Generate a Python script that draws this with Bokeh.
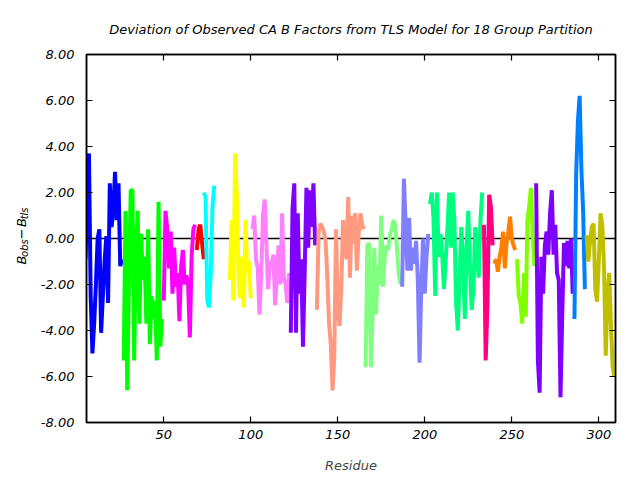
import math
from bokeh.plotting import figure
from bokeh.layouts import row
from bokeh.models import Range1d, FixedTicker, PrintfTickFormatter, LinearAxis, Span
from bokeh.core.properties import value
from bokeh.embed import file_html
from bokeh.resources import INLINE

TITLE = "Deviation of Observed CA B Factors from TLS Model for 18 Group Partition"
X_LABEL = "Residue"
X_TICKS = [50, 100, 150, 200, 250, 300]
Y_TICKS = [-8, -6, -4, -2, 0, 2, 4, 6, 8]
Y_LABEL_MAIN = ["B", "\u2212", "B"]
Y_LABEL_SUB = ["obs", "tls"]

# (first residue, values) for each TLS group
g01_start, g01 = 5, [-0.9, 1.6, 3.7, -2.5, -5.0, -3.7, -2.0, 0.0, 0.4, -4.1, -2.5, -1.0, 0.1, -2.8, 2.4, 0.5, 1.2, 2.9, 0.8, 2.4, -1.2, -0.9]
g02_start, g02 = 27, [-5.3, 1.2, -6.6, -2.0, 2.1, 2.1, -5.3, -0.5, 1.2, -3.7, 0.2, -1.8, -0.8, -3.7, 0.4, -4.6, -2.5, -3.5, -2.7, -5.3, 1.6, -4.7, -3.5]
g03_start, g03 = 50, [-2.7, 1.2, 0.4, -1.3, 0.3, -2.4, -0.4, -2.1, -1.5, -3.6, -1.2, -0.5, -2.0, -1.6, -2.0, -4.3, -0.8, 0.4, 0.6]
g04_start, g04 = 69, [-0.5, 0.4, 0.6, -0.2, -0.9]
g05_start, g05 = 73, [2.0, 1.8, -2.7, -3.0, -1.5, 1.4, 2.3]
g06_start, g06 = 88, [-1.8, 0.8, -2.7, 3.7, 1.9, -1.7, -2.6, -0.8, -3.0, 0.8, -1.5, -1.0, -2.6]
g07_start, g07 = 101, [0.4, 1.0, -0.9, -1.3, -3.3, -1.6, 1.0, 1.7, -0.3, -2.2, -1.0, -1.2, -0.7, -2.9, -1.5, -0.3, -2.0, 1.1, -1.7, -2.0, -2.8, -1.5]
g08_start, g08 = 123, [-4.1, 1.3, 2.4, -4.1, 1.1, -2.4, -0.9, -4.7, -1.4, 2.2, -0.4, 2.1, 0.5, 2.4, -0.3]
g09_start, g09 = 138, [-3.1, 0.3, 0.65, 0.5, 0.3, -0.1, -1.7, -3.7, -4.6, -6.6, -5.1, 0.4, -3.1, -3.8, -2.2, 0.8, -0.4, -0.9, 1.8, -1.7, 1.0, -0.2, 1.1, -1.4, 0.2, 1.1, 0.6, 0.4]
g10_start, g10 = 166, [-5.6, -0.3, -0.2, -5.6, -3.4, -0.4, -3.3, -1.2, -2.0, 1.0, -2.1, -0.8, -0.3, -0.5, 0.2, 0.4, 0.8, 0.6, -0.4, -1.5, -2.0]
g11_start, g11 = 187, [-2.1, 2.6, 0.6, -1.4, 0.9, -1.4, -0.4, -1.1, -0.1, -1.8, -5.4, -2.1, 0.0, -2.4, -0.8, 0.2]
g12_start, g12 = 203, [1.5, 2.0, 0.9, -2.5, 2.0, -0.8, 0.2, -0.7, -2.2, -1.0, 0.4, 2.0, -0.4, 2.0, 0.8, -2.8, -4.0, -1.7, 0.5, -1.1, -3.5, -0.4, 1.2, -1.4, -3.1, -2.1, 0.5, -0.8, -1.7, 0.8, 2.0]
g13_start, g13 = 234, [0.6, -5.3, -3.0, 1.9, 1.4, -0.3]
g14_start, g14 = 240, [-1.1, -0.9, -1.45, -0.8, -0.4, 0.3, -1.3, -0.2, 0.3, 0.95, 0.0, -0.3, -0.5]
g15_start, g15 = 253, [-0.9, -2.5, -2.8, -3.7, -1.5, -3.4, 0.8, 1.4, 2.2, 0.2, -1.2]
g16_start, g16 = 264, [2.4, -5.3, -6.7, -0.8, -2.4, -0.3, 0.3, -0.7, 1.1, 2.1, -0.7, 0.6, -1.5, -1.8, -6.9, -3.3, -0.2, -1.2, -0.1, -1.3, 0.0, -2.4]
g17_start, g17 = 286, [-3.5, 2.8, 5.1, 6.2, 3.0, 1.2, -2.2]
g18_start, g18 = 293, [0.15, -1.0, -0.1, 0.5, 0.65, -2.2, -2.75, -1.0, 1.1, 0.6, -1.2, -5.1, -2.5, -1.5, -3.8, -5.6, -6.0]

group_starts = [g01_start, g02_start, g03_start, g04_start, g05_start, g06_start, g07_start, g08_start, g09_start,
                g10_start, g11_start, g12_start, g13_start, g14_start, g15_start, g16_start, g17_start, g18_start]
group_values = [g01, g02, g03, g04, g05, g06, g07, g08, g09, g10, g11, g12, g13, g14, g15, g16, g17, g18]
group_colors = ["#0000ff", "#00ff00", "#ff00ff", "#ff0000", "#00ffff", "#ffff00", "#ff80ff", "#8000ff", "#ff9980",
                "#80ff80", "#8080ff", "#00ff80", "#ff0080", "#ff8000", "#80ff00", "#8000ff", "#0080ff", "#bfbf00"]

FONT = "DejaVu Sans"
LEFT_W = 30

# ---- main plot ----
p = figure(width=640 - LEFT_W, height=480, output_backend="svg", toolbar_location=None,
           x_range=Range1d(5.6, 309.6), y_range=Range1d(-8, 8),
           min_border_left=86 - LEFT_W, min_border_right=25, min_border_top=54, min_border_bottom=58,
           title=TITLE)
p.title.text_font = FONT
p.title.text_font_style = "italic"
p.title.text_font_size = "13px"
p.title.align = "center"
p.title.standoff = 36
p.title.text_color = "black"

p.grid.visible = False
p.outline_line_color = "black"
p.outline_line_width = 1.5
p.background_fill_color = "white"
p.border_fill_color = "white"

p.add_layout(Span(location=0, dimension="width", line_color="black", line_width=1.5, level="underlay"))

for start, vals, col in zip(group_starts, group_values, group_colors):
    xs = list(range(start, start + len(vals)))
    p.line(xs, vals, line_color=col, line_width=4, line_join="bevel")

xa = p.xaxis[0]
ya = p.yaxis[0]
xa.ticker = FixedTicker(ticks=X_TICKS)
ya.ticker = FixedTicker(ticks=Y_TICKS)
ya.formatter = PrintfTickFormatter(format="%.2f")
for ax in (xa, ya):
    ax.major_tick_in = 6
    ax.major_tick_out = 0
    ax.minor_tick_line_color = None
    ax.axis_line_width = 1.5
    ax.major_tick_line_width = 1.2
    ax.major_label_text_font = FONT
    ax.major_label_text_font_style = "italic"
    ax.major_label_text_font_size = "13px"
    ax.major_label_text_color = "black"
xa.major_label_standoff = 7
ya.major_label_standoff = 12
xa.axis_label = X_LABEL
xa.axis_label_text_font = FONT
xa.axis_label_text_font_style = "italic"
xa.axis_label_text_font_size = "13px"
xa.axis_label_standoff = 16

for loc, tick_list in (("right", Y_TICKS), ("above", X_TICKS)):
    ax = LinearAxis(ticker=FixedTicker(ticks=tick_list), major_tick_in=6, major_tick_out=0,
                    minor_tick_line_color=None, major_label_text_font_size="1px",
                    major_label_text_color=None, major_label_standoff=0,
                    axis_line_width=1.5, major_tick_line_width=1.2)
    p.add_layout(ax, loc)

# ---- left strip carrying the rotated y-axis label B_obs - B_tls ----
q = figure(width=LEFT_W, height=480, output_backend="svg", toolbar_location=None,
           x_range=Range1d(0, LEFT_W), y_range=Range1d(0, 480),
           x_axis_location=None, y_axis_location=None,
           min_border=0, outline_line_color=None, title=None)
q.grid.visible = False
q.border_fill_color = "white"
q.background_fill_color = "white"
# positions in pixels of this strip (y measured from the bottom)
q.text(x=[21, 21, 21], y=[206, 239, 255], text=Y_LABEL_MAIN, angle=math.pi / 2,
       text_font=value(FONT), text_font_style="italic", text_font_size="13px",
       text_align="left", text_baseline="alphabetic", text_color="black")
q.text(x=[24, 24], y=[216, 265], text=Y_LABEL_SUB, angle=math.pi / 2,
       text_font=value(FONT), text_font_style="italic", text_font_size="10px",
       text_align="left", text_baseline="alphabetic", text_color="black")

layout = row(q, p, spacing=0)
open("out.html", "w").write(file_html(layout, INLINE))
